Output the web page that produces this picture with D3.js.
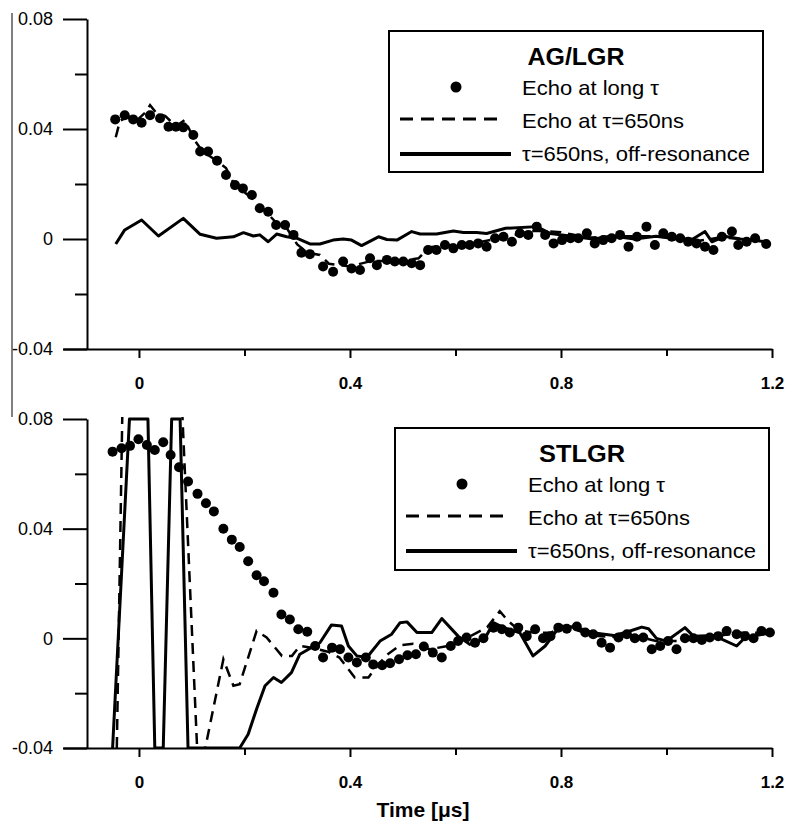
<!DOCTYPE html>
<html>
<head>
<meta charset="utf-8">
<script src="https://cdn.jsdelivr.net/npm/d3@7"></script>
<style>
  body { margin: 0; background: #fff; }
  svg { display: block; }
</style>
</head>
<body>
<svg id="chart" width="786" height="822"></svg>
<script>
// axis ticks and labels
const xTicksMajor = [0, 0.4, 0.8, 1.2]
const xTicksMinor = [0.2, 0.6, 1.0]
const yTicksMajor = [-0.04, 0, 0.04, 0.08]
const yTicksMinor = [-0.02, 0.02, 0.06]
const xLabel = "Time [\u03bcs]"
const legendLabels = ["Echo at long \u03c4", "Echo at \u03c4=650ns", "\u03c4=650ns, off-resonance"]
const panelTitles = ["AG/LGR", "STLGR"]

// top panel (AG/LGR), echo at long tau (dots)
const topDotsT = [-0.045, -0.027, -0.011, 0.005, 0.021, 0.040, 0.056, 0.070, 0.084, 0.103, 0.116, 0.131, 0.148, 0.165, 0.182, 0.197,
  0.214, 0.229, 0.245, 0.260, 0.277, 0.293, 0.308, 0.324, 0.349, 0.368, 0.387, 0.403, 0.419, 0.438, 0.451, 0.470, 0.485, 0.501,
  0.517, 0.533, 0.548, 0.564, 0.580, 0.596, 0.612, 0.627, 0.643, 0.659, 0.675, 0.691, 0.707, 0.722, 0.738, 0.754, 0.770, 0.786,
  0.802, 0.818, 0.833, 0.849, 0.864, 0.880, 0.896, 0.912, 0.928, 0.944, 0.962, 0.978, 0.994, 1.010, 1.026, 1.041, 1.057, 1.073,
  1.089, 1.105, 1.124, 1.136, 1.152, 1.168, 1.189]
const topDotsV = [0.0435, 0.045, 0.0435, 0.0423, 0.045, 0.0439, 0.0408, 0.0408, 0.0406, 0.0378, 0.0318, 0.0318, 0.0285, 0.0233, 0.0196, 0.0184,
  0.016, 0.0112, 0.0099, 0.0051, 0.0051, 0.0015, -0.005, -0.0055, -0.010, -0.0119, -0.0082, -0.0107, -0.0113, -0.007, -0.0095, -0.0076, -0.0082, -0.0082,
  -0.0088, -0.0095, -0.004, -0.004, -0.0022, -0.0034, -0.0022, -0.0022, -0.0016, -0.0028, 0.0003, 0.0008, -0.001, 0.0021, 0.0015, 0.0045, 0.0015, -0.0016,
  -0.0004, 0.0003, 0.0003, 0.0021, -0.0016, -0.0004, 0.0003, 0.0015, -0.0028, 0.0008, 0.0045, -0.0022, 0.0021, 0.0008, 0.0003, -0.001, -0.0016, -0.0028,
  -0.004, 0.0008, 0.0027, -0.0022, -0.001, 0.0003, -0.0018]
// top panel, echo at tau=650ns (dashed)
const topDashT = [-0.044, -0.036, -0.02, -0.005, 0.012, 0.021, 0.032, 0.05, 0.07, 0.087, 0.105, 0.12, 0.15, 0.165, 0.18, 0.2, 0.22, 0.24,
  0.26, 0.28, 0.3, 0.32, 0.343, 0.36, 0.4, 0.44, 0.5, 0.53, 0.55, 0.6, 0.65, 0.7, 0.75, 0.78, 0.8, 0.85, 0.9, 0.95, 1.0, 1.05, 1.1, 1.15, 1.19]
const topDashV = [0.037, 0.043, 0.0445, 0.043, 0.046, 0.0487, 0.046, 0.0447, 0.041, 0.0433, 0.036, 0.032, 0.028, 0.0258, 0.02, 0.017, 0.014, 0.010,
  0.006, 0.004, -0.002, -0.005, -0.0058, -0.009, -0.010, -0.008, -0.008, -0.007, -0.003, -0.002, -0.001, 0.001, 0.003, 0.0027, 0.0025, 0.0005, 0.001, 0.001, 0.001, -0.001, 0.0005, 0.0, -0.001]
// top panel, tau=650ns off-resonance (solid)
const topSolidT = [-0.044, -0.027, 0.005, 0.037, 0.084, 0.116, 0.147, 0.179, 0.198, 0.217, 0.229, 0.245, 0.261, 0.280, 0.299, 0.324, 0.343,
  0.368, 0.387, 0.403, 0.422, 0.454, 0.470, 0.489, 0.517, 0.533, 0.564, 0.596, 0.615, 0.64, 0.659, 0.695, 0.754, 0.78, 0.82, 0.86, 0.9,
  0.94, 0.98, 1.02, 1.05, 1.073, 1.086, 1.11, 1.14, 1.19]
const topSolidV = [-0.0018, 0.0033, 0.0069, 0.0011, 0.0075, 0.0017, 0.0003, 0.0008, 0.0023, 0.0011, 0.0015, -0.001, 0.0018, 0.0008, 0.0003, -0.0018, -0.0018,
  -0.0004, 0.0, -0.0004, -0.0024, 0.0008, -0.0002, -0.0004, 0.0027, 0.0018, 0.0018, 0.0029, 0.0024, 0.0024, 0.002, 0.0039, 0.0045, 0.002, 0.001, 0.0, 0.001,
  0.0, 0.001, 0.0, 0.0, 0.0027, -0.001, 0.001, 0.0, -0.001]

// bottom panel (STLGR), echo at long tau (dots)
const botDotsT = [-0.050, -0.033, -0.017, -0.001, 0.015, 0.030, 0.046, 0.060, 0.076, 0.093, 0.111, 0.127, 0.142, 0.160, 0.176, 0.191,
  0.207, 0.223, 0.237, 0.255, 0.270, 0.286, 0.302, 0.319, 0.334, 0.349, 0.366, 0.381, 0.397, 0.413, 0.430, 0.444, 0.461, 0.476,
  0.493, 0.509, 0.525, 0.540, 0.557, 0.574, 0.591, 0.605, 0.621, 0.637, 0.653, 0.672, 0.688, 0.703, 0.719, 0.735, 0.751, 0.766,
  0.780, 0.795, 0.811, 0.830, 0.846, 0.861, 0.877, 0.893, 0.909, 0.925, 0.940, 0.956, 0.972, 0.988, 1.003, 1.019, 1.035, 1.051,
  1.067, 1.082, 1.098, 1.114, 1.133, 1.149, 1.165, 1.180, 1.196]
const botDotsV = [0.0681, 0.0693, 0.0702, 0.0726, 0.0705, 0.0687, 0.0715, 0.0669, 0.0624, 0.0572, 0.0527, 0.0493, 0.0463, 0.040, 0.036, 0.0333,
  0.0281, 0.023, 0.0208, 0.0166, 0.0087, 0.0069, 0.0033, 0.0024, -0.0028, -0.007, -0.0034, -0.004, -0.007, -0.0088, -0.007, -0.0095, -0.0098, -0.0091,
  -0.0076, -0.0062, -0.0058, -0.003, -0.0052, -0.007, -0.0028, -0.001, 0.0003, -0.0016, 0.0, 0.0039, 0.0033, 0.0021, 0.0039, 0.0008, 0.0033, 0.0,
  0.0008, 0.0039, 0.0035, 0.0043, 0.0021, 0.0015, -0.0016, -0.0034, 0.0003, 0.0015, 0.0, 0.0003, -0.004, -0.0028, -0.001, -0.004, 0.0, 0.0,
  -0.0006, 0.0003, 0.0008, 0.0027, 0.0015, 0.0008, 0.0, 0.0027, 0.0021]
// bottom panel, echo at tau=650ns (dashed), runs off the plot range near the pulses
const botDashT = [-0.042, -0.030, 0.078, 0.113, 0.160, 0.179, 0.191, 0.223, 0.242, 0.271, 0.290, 0.305, 0.33, 0.36, 0.38, 0.397, 0.409,
  0.435, 0.444, 0.47, 0.495, 0.52, 0.55, 0.58, 0.61, 0.64, 0.66, 0.684, 0.70, 0.72, 0.75, 0.78, 0.80, 0.83, 0.86, 0.90, 0.94, 0.98,
  1.02, 1.06, 1.10, 1.14, 1.18, 1.195]
const botDashV = [-0.04, 0.10, 0.10, -0.052, -0.0076, -0.0173, -0.0167, 0.0027, 0.0003, -0.0064, -0.0064, -0.0028, -0.0035, -0.005, -0.007, -0.0113, -0.0143,
  -0.0143, -0.0119, -0.006, -0.0025, -0.002, -0.004, -0.003, -0.001, 0.002, 0.004, 0.0099, 0.0063, 0.003, 0.002, 0.002, 0.004, 0.003, 0.001, 0.0005, 0.001, -0.001,
  -0.001, 0.0, 0.001, 0.002, 0.002, 0.002]
// bottom panel, tau=650ns off-resonance (solid), saturated at the axis limits
const botSolidT = [-0.050, -0.018, 0.017, 0.030, 0.046, 0.062, 0.078, 0.093, 0.191, 0.207, 0.223, 0.239, 0.255, 0.270, 0.289, 0.305,
  0.343, 0.365, 0.384, 0.397, 0.413, 0.432, 0.457, 0.479, 0.495, 0.508, 0.527, 0.555, 0.574, 0.605, 0.627, 0.656, 0.672, 0.69,
  0.722, 0.747, 0.770, 0.798, 0.83, 0.86, 0.90, 0.928, 0.953, 0.966, 0.981, 1.0, 1.035, 1.051, 1.09, 1.133, 1.149, 1.17, 1.199]
const botSolidV = [-0.04, 0.08, 0.08, -0.04, -0.04, 0.08, 0.08, -0.04, -0.04, -0.035, -0.0258, -0.0173, -0.0143, -0.0161, -0.0125, -0.0058,
  -0.0016, 0.0049, 0.0045, -0.0028, -0.0064, -0.007, -0.001, 0.0015, 0.0057, 0.006, 0.0021, 0.0021, 0.0072, 0.0008, -0.0022, 0.0, 0.0057, 0.004,
  0.002, -0.0064, -0.0028, 0.0045, 0.004, 0.002, 0.001, 0.0025, 0.0041, 0.0035, 0.0, -0.001, 0.0039, 0.0008, 0.001, -0.0028, 0.0003, 0.001, 0.0021]

const svg = d3.select("#chart")
const font = "'Liberation Sans', Arial, sans-serif"
const x = d3.scaleLinear().domain([-0.144, 1.2]).range([63, 772])

function zip(T, V) { return T.map((t, i) => [t, V[i]]) }

function drawPanel(p) {
  const y = d3.scaleLinear().domain([-0.04, 0.08]).range([p.bottom, p.top])
  const g = svg.append("g")

  // x axis, major then minor ticks
  const xg = g.append("g").attr("transform", `translate(0,${p.bottom})`)
    .call(d3.axisBottom(x).tickValues(xTicksMajor).tickSize(9).tickSizeOuter(0).tickPadding(19).tickFormat(d => String(d)))
  g.append("g").attr("transform", `translate(0,${p.bottom})`)
    .call(d3.axisBottom(x).tickValues(xTicksMinor).tickSize(7).tickFormat(""))
    .call(a => a.select(".domain").remove())
  xg.selectAll("text").attr("font-family", font).attr("font-size", 17).attr("font-weight", "bold").attr("fill", "#000")

  // y axis
  const yg = g.append("g").attr("transform", `translate(87,0)`)
    .call(d3.axisLeft(y).tickValues(yTicksMajor).tickSize(24).tickSizeOuter(0).tickPadding(10).tickFormat(d => String(d)))
  g.append("g").attr("transform", `translate(87,0)`)
    .call(d3.axisLeft(y).tickValues(yTicksMinor).tickSize(12).tickFormat(""))
    .call(a => a.select(".domain").remove())
  yg.selectAll("text").attr("font-family", font).attr("font-size", 18).attr("fill", "#000")
  g.selectAll(".domain, .tick line").attr("stroke", "#000").attr("stroke-width", 2)

  // clip the traces to the plot area
  svg.append("clipPath").attr("id", p.id)
    .append("rect").attr("x", 63).attr("y", p.top - 2).attr("width", 720).attr("height", p.bottom - p.top + 3)

  const line = d3.line().x(d => x(d[0])).y(d => y(d[1]))
  const traces = g.append("g").attr("clip-path", `url(#${p.id})`)
  traces.append("path").datum(zip(p.dashT, p.dashV)).attr("d", line)
    .attr("fill", "none").attr("stroke", "#000").attr("stroke-width", 2.5).attr("stroke-dasharray", "11,7")
  traces.append("path").datum(zip(p.solidT, p.solidV)).attr("d", line)
    .attr("fill", "none").attr("stroke", "#000").attr("stroke-width", 3).attr("stroke-linejoin", "round")
  traces.append("g").selectAll("circle").data(zip(p.dotsT, p.dotsV)).join("circle")
    .attr("cx", d => x(d[0])).attr("cy", d => y(d[1])).attr("r", 5).attr("fill", "#000")

  // legend box
  const L = p.legend
  const lg = g.append("g")
  lg.append("rect").attr("x", L.x).attr("y", L.y).attr("width", L.w).attr("height", L.h)
    .attr("fill", "#fff").attr("stroke", "#000").attr("stroke-width", 2)
  lg.append("text").attr("x", L.titleX).attr("y", L.y + 34).attr("text-anchor", "middle")
    .attr("font-family", font).attr("font-weight", "bold").attr("font-size", 24)
    .attr("textLength", L.titleW).attr("lengthAdjust", "spacingAndGlyphs").text(p.title)
  lg.append("circle").attr("cx", L.dotX).attr("cy", L.y + 56).attr("r", 5.5).attr("fill", "#000")
  lg.append("line").attr("x1", L.lineX).attr("x2", L.lineX + 105).attr("y1", L.y + 88).attr("y2", L.y + 88)
    .attr("stroke", "#000").attr("stroke-width", 3).attr("stroke-dasharray", "13,8")
  lg.append("line").attr("x1", L.lineX).attr("x2", L.lineX + 111).attr("y1", L.y + 123).attr("y2", L.y + 123)
    .attr("stroke", "#000").attr("stroke-width", 4)
  const widths = [137, 162, 228]
  const baselines = [L.y + 64, L.y + 97, L.y + 130]
  legendLabels.forEach((s, i) => {
    lg.append("text").attr("x", L.textX).attr("y", baselines[i])
      .attr("font-family", font).attr("font-size", 21)
      .attr("textLength", widths[i]).attr("lengthAdjust", "spacingAndGlyphs").text(s)
  })
}

drawPanel({id: "clipTop", top: 19, bottom: 349, title: panelTitles[0],
  dotsT: topDotsT, dotsV: topDotsV, dashT: topDashT, dashV: topDashV, solidT: topSolidT, solidV: topSolidV,
  legend: {x: 389, y: 31, w: 374, h: 141, titleX: 576, titleW: 97, dotX: 456, lineX: 400, textX: 522}})
drawPanel({id: "clipBot", top: 419, bottom: 748, title: panelTitles[1],
  dotsT: botDotsT, dotsV: botDotsV, dashT: botDashT, dashV: botDashV, solidT: botSolidT, solidV: botSolidV,
  legend: {x: 395, y: 428, w: 374, h: 142, titleX: 582, titleW: 86, dotX: 462, lineX: 406, textX: 528}})

// axis title
svg.append("text").attr("x", 423).attr("y", 817).attr("text-anchor", "middle")
  .attr("font-family", font).attr("font-weight", "bold").attr("font-size", 21).text(xLabel)

// stray thin vertical rule at the left edge of the original figure
svg.append("line").attr("x1", 12).attr("x2", 12).attr("y1", 13).attr("y2", 417)
  .attr("stroke", "#000").attr("stroke-width", 1)
</script>
</body>
</html>
